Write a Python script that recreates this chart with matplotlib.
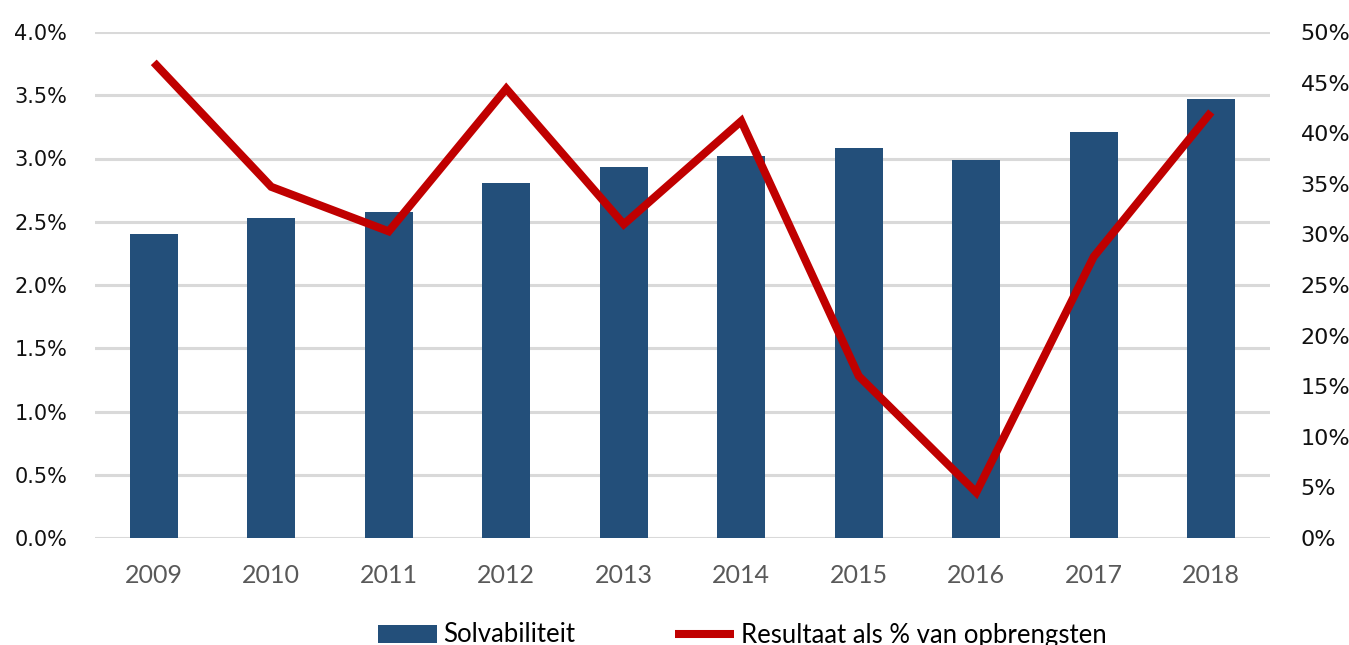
import matplotlib
matplotlib.use("Agg")
import matplotlib.pyplot as plt
from matplotlib.ticker import FuncFormatter, MultipleLocator

years = ["2009", "2010", "2011", "2012", "2013", "2014", "2015", "2016", "2017", "2018"]
solvabiliteit = [2.40, 2.53, 2.58, 2.81, 2.93, 3.02, 3.08, 2.99, 3.21, 3.47]
resultaat = [47.0, 34.7, 30.3, 44.4, 31.0, 41.2, 16.0, 4.5, 27.8, 42.1]

bar_color = "#234F7A"
line_color = "#C00000"
grid_color = "#D9D9D9"
label_font = ["Lato", "DejaVu Sans"]
tick_font = ["DejaVu Sans"]

fig = plt.figure(figsize=(13.49, 6.45), dpi=100)
ax = fig.add_axes([95/1349, 1-538/645, 1175/1349, 506/645])
ax2 = ax.twinx()

x = list(range(len(years)))
bars = ax.bar(x, solvabiliteit, width=0.41, color=bar_color, label="Solvabiliteit", zorder=2)
line, = ax2.plot(x, resultaat, color=line_color, linewidth=5.8, solid_capstyle="butt",
                 solid_joinstyle="miter", label="Resultaat als % van opbrengsten", zorder=3)

ax.set_xlim(-0.5, len(years) - 0.5)
ax.set_ylim(0, 4.0)
ax2.set_ylim(0, 50)
ax.yaxis.set_major_locator(MultipleLocator(0.5))
ax2.yaxis.set_major_locator(MultipleLocator(5))
ax.yaxis.set_major_formatter(FuncFormatter(lambda v, p: f"{v:.1f}%"))
ax2.yaxis.set_major_formatter(FuncFormatter(lambda v, p: f"{v:.0f}%"))

ax.grid(axis="y", color=grid_color, linewidth=2.2, zorder=0)
ax.set_axisbelow(True)
for a in (ax, ax2):
    for s in a.spines.values():
        s.set_visible(False)

ax.set_xticks(x)
ax.set_xticklabels(years, fontsize=18, color="#595959", family=label_font)
ax.tick_params(axis="x", length=0, pad=19)
ax.tick_params(axis="y", length=0, pad=20, labelsize=15, labelcolor="#111111")
ax2.tick_params(axis="y", length=0, pad=22, labelsize=16, labelcolor="#111111")
for lab in ax.get_yticklabels() + ax2.get_yticklabels():
    lab.set_family(tick_font)

ax.set_zorder(ax2.get_zorder() - 1)
ax2.patch.set_visible(False)

fig.legend([bars, line], ["Solvabiliteit", "Resultaat als % van opbrengsten"],
           loc="center", bbox_to_anchor=(742/1349, 1-635/645), ncol=2, frameon=False,
           prop={"family": label_font, "size": 18.5}, handlelength=2.3, handletextpad=0.25,
           columnspacing=3.9, borderpad=0, borderaxespad=0)

fig.savefig("out.png", dpi=100)
